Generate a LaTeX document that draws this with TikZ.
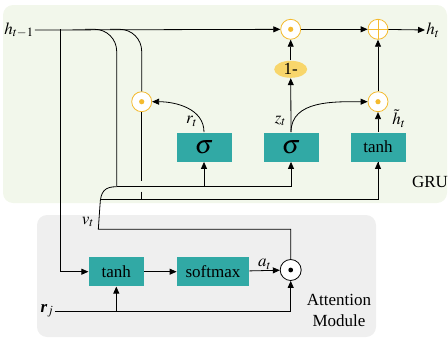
\documentclass[tikz,border=0pt]{standalone}
\usepackage{mathptmx}
\usepackage{fontspec}
\setmainfont{Liberation Serif}
\usetikzlibrary{arrows.meta,positioning,calc,shapes.geometric}
\definecolor{gruband}{HTML}{F2F7EB}
\definecolor{attband}{HTML}{EFEFEF}
\definecolor{gatefill}{HTML}{31A9A5}
\definecolor{ringgold}{HTML}{F4BA2E}
\definecolor{onefill}{HTML}{F8D66B}

\begin{document}
\begin{tikzpicture}[x=1pt,y=-1pt,font=\fontsize{17}{19}\selectfont,line width=0.8pt,
    >={Triangle[length=7pt,width=6pt]},
    gate/.style={fill=gatefill, minimum width=55pt, minimum height=29pt, inner sep=0pt},
    hmul/.style={circle, draw=ringgold, fill=white, minimum size=20pt, inner sep=0pt,
      path picture={\fill[ringgold] (path picture bounding box.center) circle (2.6pt);}},
    hadd/.style={circle, draw=ringgold, fill=white, minimum size=20pt, inner sep=0pt,
      path picture={\draw[ringgold] (path picture bounding box.north) -- (path picture bounding box.south)
        (path picture bounding box.west) -- (path picture bounding box.east);}},
    amul/.style={circle, draw=black, fill=white, minimum size=21pt, inner sep=0pt,
      path picture={\fill[black] (path picture bounding box.center) circle (2.4pt);}},
    lbl/.style={inner sep=1pt}]
  \useasboundingbox (0,0) rectangle (448,338);
  % ---------- bands ----------
  \fill[gruband, rounded corners=10pt] (3,5) rectangle (447,203);
  \fill[attband, rounded corners=10pt] (37,215) rectangle (376,337);
  \node[lbl] (grulbl) at (430,182) {GRU};
  \node[lbl, align=center, font=\fontsize{17}{21}\selectfont] (attlbl) at (339,310) {Attention\\Module};
  % ---------- GRU ----------
  \node[lbl] (hprev) at (19,30) {$h_{t-1}$};
  \node[hmul] (mulz) at (290.7,29.3) {};
  \node[hadd] (add)  at (378,29.3) {};
  \node[lbl, anchor=west] (hout) at (425,30) {$h_t$};
  \node[hmul] (mulr) at (141.7,101.7) {};
  \node[hmul] (mulh) at (378,101.7) {};
  \node[ellipse, fill=onefill, minimum width=33pt, minimum height=17pt, inner sep=0pt] (one) at (290.7,69.3) {1-};
  \node[gate] (sigr) at (204,147) {\fontsize{26}{26}\selectfont$\sigma$};
  \node[gate] (sigz) at (291,147) {\fontsize{26}{26}\selectfont$\sigma$};
  \node[gate] (cand) at (378,147) {tanh};
  \coordinate (tap)  at (60,29.3);
  \coordinate (busr) at (116.7,186.7);
  \coordinate (busc) at (101.3,199.3);
  % ---------- attention ----------
  \node[gate] (atanh) at (116.3,271.7) {tanh};
  \node[gate, minimum width=72pt] (soft) at (213,271.7) {softmax};
  \node[amul] (attmul) at (290.7,270) {};
  \node[lbl] (rj) at (47,311) {$\textbf{\textit{r}}_j$};
  \node[lbl] (vt) at (88,222) {$v_t$};
  % ---------- signals ----------
  \draw[->] (hprev.east) -- (mulz);
  \draw[->] (mulz) -- (add);
  \draw[->] (add) -- (hout.west);
  \draw[->] (tap) |- (atanh.west);
  \draw[rounded corners=22pt] (85,29.3) -| (busr);
  \draw[rounded corners=22pt] (110,29.3) -| (mulr.north);
  \draw (busr) -- (sigz.south |- busr);
  \draw[->] (sigr.south |- busr) -- (sigr.south);
  \draw[->] (sigz.south |- busr) -- (sigz.south);
  \draw (mulr.south) -- (141.7,181);
  \draw (141.7,191.5) -- (141.7,199.3);
  \draw (busc) -| (cand.south);
  \draw[->] (378,199.3) -- (cand.south);
  \draw (busr) .. controls (105,186.7) and (100.5,191) .. (100,205) -- (98.3,229.3) -| (attmul.north);
  \draw[->] (sigr.north) to[out=90,in=0] (mulr.east);
  \node[lbl] (rt) at (191.7,121.5) {$r_t$};
  \draw[->] (sigz.north) -- (one);
  \draw[->] (one) -- (mulz);
  \draw[->] (sigz.north) to[out=90,in=180] (mulh.west);
  \node[lbl] (zt) at (280.5,121) {$z_t$};
  \draw[->] (cand) -- (mulh);
  \node[lbl] (htl) at (399,118.5) {$\tilde{h}_t$};
  \draw[->] (mulh) -- (add);
  \draw[->] (atanh) -- (soft);
  \draw[->] (soft) -- node[above, lbl] {$a_t$} (attmul);
  \draw[->] (rj.east) -| (attmul.south);
  \draw[->] (atanh.south |- rj.east) -- (atanh.south);
\end{tikzpicture}
\end{document}
